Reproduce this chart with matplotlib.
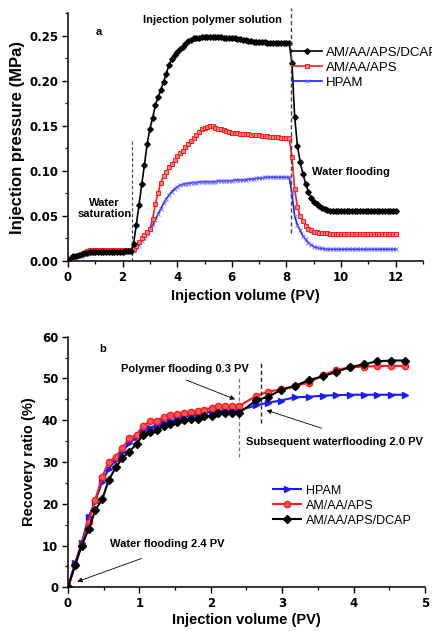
import numpy as np
import matplotlib
matplotlib.use('Agg')
import matplotlib.pyplot as plt
from matplotlib.ticker import MultipleLocator

# ---- panel a: injection pressure vs injection volume ----
pv_a = np.linspace(0, 12, 121)

press_dcap = ([0.001, 0.003, 0.005, 0.006, 0.007, 0.008, 0.009, 0.009, 0.010, 0.010]
              + [0.010] * 10
              + [0.010, 0.011, 0.011, 0.011, 0.019, 0.040, 0.062, 0.085, 0.107, 0.130]
              + [0.147, 0.159, 0.173, 0.182, 0.190, 0.199, 0.208, 0.218, 0.224, 0.229]
              + [0.232, 0.235, 0.238, 0.241, 0.244, 0.245, 0.247, 0.248, 0.248, 0.249]
              + [0.249, 0.249, 0.249, 0.249, 0.249, 0.249, 0.249, 0.248, 0.248, 0.248]
              + [0.247, 0.247, 0.246, 0.246, 0.245, 0.245, 0.244, 0.244, 0.243, 0.243]
              + [0.243, 0.243, 0.243, 0.242, 0.242, 0.242, 0.242, 0.242, 0.242, 0.242]
              + [0.242, 0.242, 0.220, 0.160, 0.128, 0.110, 0.097, 0.086, 0.077, 0.070]
              + [0.066, 0.063, 0.061, 0.059, 0.058, 0.057, 0.056, 0.056, 0.056, 0.056]
              + [0.056] * 21)

press_aps = ([0.000, 0.002, 0.004, 0.006, 0.007, 0.008, 0.009, 0.011, 0.012, 0.012]
             + [0.012] * 10
             + [0.012, 0.012, 0.012, 0.011, 0.013, 0.017, 0.021, 0.025, 0.029, 0.032]
             + [0.036, 0.047, 0.063, 0.076, 0.087, 0.094, 0.099, 0.104, 0.108, 0.112]
             + [0.116, 0.120, 0.122, 0.126, 0.130, 0.133, 0.137, 0.140, 0.143, 0.146]
             + [0.148, 0.149, 0.150, 0.150, 0.148, 0.147, 0.146, 0.145, 0.144, 0.143]
             + [0.142, 0.142, 0.142, 0.141, 0.141, 0.141, 0.141, 0.140, 0.140, 0.140]
             + [0.140, 0.139, 0.139, 0.139, 0.138, 0.138, 0.138, 0.138, 0.137, 0.137]
             + [0.137, 0.137, 0.115, 0.080, 0.060, 0.050, 0.044, 0.039, 0.036, 0.034]
             + [0.032, 0.032, 0.031, 0.031, 0.031, 0.031, 0.030, 0.030, 0.030, 0.030]
             + [0.030] * 21)

press_hpam = ([0.000, 0.001, 0.002, 0.004, 0.005, 0.006, 0.007, 0.008, 0.009, 0.009]
              + [0.010] * 10
              + [0.010, 0.010, 0.010, 0.010, 0.011, 0.014, 0.018, 0.022, 0.026, 0.030]
              + [0.034, 0.040, 0.046, 0.052, 0.058, 0.064, 0.069, 0.073, 0.077, 0.080]
              + [0.082, 0.084, 0.085, 0.086, 0.086, 0.087, 0.087, 0.087, 0.088, 0.088]
              + [0.088, 0.088, 0.088, 0.088, 0.088, 0.089, 0.089, 0.089, 0.089, 0.089]
              + [0.089, 0.090, 0.090, 0.090, 0.090, 0.090, 0.091, 0.091, 0.091, 0.092]
              + [0.092, 0.092, 0.093, 0.093, 0.093, 0.093, 0.093, 0.093, 0.093, 0.093]
              + [0.093, 0.093, 0.075, 0.050, 0.040, 0.034, 0.028, 0.024, 0.020, 0.018]
              + [0.016, 0.015, 0.014, 0.014, 0.013, 0.013, 0.013, 0.013, 0.013, 0.013]
              + [0.013] * 21)

# ---- panel b: recovery ratio vs injection volume ----
pv_b = [0, 0.10, 0.19, 0.29, 0.38, 0.48, 0.57, 0.67, 0.76, 0.86, 0.96, 1.05, 1.15,
        1.24, 1.34, 1.43, 1.53, 1.63, 1.72, 1.82, 1.91, 2.01, 2.10, 2.20, 2.29, 2.39,
        2.64, 2.80, 2.98, 3.18, 3.37, 3.57, 3.76, 3.95, 4.14, 4.33, 4.53, 4.72]

rec_hpam = [0, 5.9, 10.5, 16.9, 20.5, 25.3, 28.3, 30.5, 32.5, 34.5, 36.0, 37.5, 38.2,
            38.8, 39.3, 39.7, 40.4, 40.9, 41.1, 41.3, 41.7, 42.1, 42.2, 42.3, 42.3, 42.3,
            43.6, 44.2, 44.7, 45.5, 45.6, 45.9, 46.0, 46.1, 46.1, 46.1, 46.1, 46.1]
rec_aps = [0, 5.3, 10.1, 15.7, 20.9, 26.5, 29.9, 31.3, 33.3, 35.7, 36.5, 38.7, 39.7,
           39.9, 40.7, 41.2, 41.5, 41.7, 42.0, 42.2, 42.5, 42.9, 43.4, 43.4, 43.3, 43.3,
           45.9, 46.8, 47.4, 48.2, 49.0, 50.8, 52.0, 52.7, 52.8, 53.0, 53.0, 53.0]
rec_dcap = [0, 5.3, 9.9, 13.9, 18.4, 21.1, 25.7, 28.7, 30.9, 32.5, 34.3, 36.5, 37.1,
            37.7, 38.6, 39.0, 39.5, 40.1, 40.2, 40.2, 41.0, 41.1, 41.7, 41.7, 41.7, 41.7,
            44.8, 45.6, 47.2, 48.2, 49.6, 50.5, 51.6, 52.7, 53.4, 54.1, 54.3, 54.3]

BLUE = '#1a1aff'
RED = '#ff1a1a'
tickfont = dict(family='DejaVu Sans', weight='bold', size=8.5)
notefont = dict(family='Liberation Sans', weight='bold', size=8)
labfont = dict(family='Liberation Sans', weight='bold')

fig = plt.figure(figsize=(4.32, 6.31), dpi=100)
ax1 = fig.add_axes([0.1574, 0.5864, 0.8218, 0.3926])
ax2 = fig.add_axes([0.1574, 0.0693, 0.8264, 0.3971])

for ax in (ax1, ax2):
    for s in ('top', 'right'):
        ax.spines[s].set_visible(False)
    for s in ('left', 'bottom'):
        ax.spines[s].set_linewidth(1.1)
    ax.tick_params(which='major', direction='out', length=4, width=1, pad=3)
    ax.tick_params(which='minor', direction='out', length=2.5, width=0.9)

# panel a
ax1.plot(pv_a, press_dcap, color='k', lw=1.2, marker='D', ms=2.8, label='AM/AA/APS/DCAP', zorder=4)
ax1.plot(pv_a, press_aps, color=RED, lw=1.2, marker='s', ms=2.6, mfc='#ff8080', mec=RED,
         mew=0.7, label='AM/AA/APS', zorder=3)
ax1.plot(pv_a, press_hpam, color=BLUE, lw=1.2, marker='x', ms=2.6, mec='#6a6aff',
         mew=0.6, label='HPAM', zorder=2)
ax1.set_xlim(0, 13)
ax1.set_ylim(0, 0.275)
ax1.xaxis.set_minor_locator(MultipleLocator(1))
ax1.yaxis.set_minor_locator(MultipleLocator(0.025))
ax1.set_xticks([0, 2, 4, 6, 8, 10, 12])
ax1.set_xticklabels(['0', '2', '4', '6', '8', '10', '12'], fontdict=tickfont)
ax1.set_yticks([0, 0.05, 0.10, 0.15, 0.20, 0.25])
ax1.set_yticklabels(['0.00', '0.05', '0.10', '0.15', '0.20', '0.25'], fontdict=tickfont)
ax1.set_xlabel('Injection volume (PV)', size=10.5, labelpad=4, **labfont)
ax1.set_ylabel('Injection pressure (MPa)', size=12, labelpad=3, **labfont)

ax1.plot([2.35, 2.35], [0, 0.133], ls=(0, (3, 2)), color='#444444', lw=0.8, zorder=1)
ax1.plot([8.15, 8.15], [0.031, 0.281], ls=(0, (3, 2)), color='#444444', lw=1.0, zorder=5,
         clip_on=False)
ax1.text(1.13, 0.254, 'a', ha='center', va='center', **notefont)
ax1.text(5.29, 0.267, 'Injection polymer solution', ha='center', va='center', **notefont)
ax1.text(1.33, 0.058, 'Water\nsaturation', ha='center', va='center', linespacing=1.1, **notefont)
ax1.text(8.92, 0.0985, 'Water flooding', ha='left', va='center', **notefont)
ax1.legend(loc='upper left', bbox_to_anchor=(0.63, 0.865), frameon=False, borderpad=0,
           borderaxespad=0, handlelength=2.3, handletextpad=0.3, labelspacing=0.2,
           numpoints=1, prop=dict(family='Liberation Sans', size=9.5))

# panel b
ax2.plot(pv_b, rec_hpam, color=BLUE, lw=1.5, marker='>', ms=4.5, label='HPAM', zorder=2)
ax2.plot(pv_b, rec_aps, color=RED, lw=1.5, marker='o', ms=4.5, mfc='#ff5a5a', mec=RED,
         label='AM/AA/APS', zorder=3)
ax2.plot(pv_b, rec_dcap, color='k', lw=1.5, marker='D', ms=3.6, label='AM/AA/APS/DCAP', zorder=4)
ax2.set_xlim(0, 5)
ax2.set_ylim(0, 60)
ax2.xaxis.set_minor_locator(MultipleLocator(0.5))
ax2.yaxis.set_minor_locator(MultipleLocator(5))
ax2.set_xticks([0, 1, 2, 3, 4, 5])
ax2.set_xticklabels(['0', '1', '2', '3', '4', '5'], fontdict=tickfont)
ax2.set_yticks([0, 10, 20, 30, 40, 50, 60])
ax2.set_yticklabels(['0', '10', '20', '30', '40', '50', '60'], fontdict=tickfont)
ax2.set_xlabel('Injection volume (PV)', size=10.5, labelpad=2, **labfont)
ax2.set_ylabel('Recovery ratio (%)', size=10.5, labelpad=4, **labfont)

ax2.plot([2.4, 2.4], [31.3, 50.0], ls=(0, (3, 2)), color='#777777', lw=0.9, zorder=1)
ax2.plot([2.7, 2.7], [39.3, 53.6], ls=(0, (3, 2)), color='#222222', lw=1.0, zorder=5)
ax2.text(0.49, 57, 'b', ha='center', va='center', **notefont)
ax2.text(1.63, 52.3, 'Polymer flooding 0.3 PV', ha='center', va='center', **notefont)
ax2.text(2.49, 34.9, 'Subsequent waterflooding 2.0 PV', ha='left', va='center', **notefont)
ax2.text(0.59, 10.4, 'Water flooding 2.4 PV', ha='left', va='center', **notefont)
arrow = dict(arrowstyle='-|>', color='k', lw=0.6, mutation_scale=7, shrinkA=0, shrinkB=0)
ax2.annotate('', xy=(2.34, 45.0), xytext=(1.66, 49.6), arrowprops=arrow)
ax2.annotate('', xy=(2.78, 42.4), xytext=(3.55, 38.1), arrowprops=arrow)
ax2.annotate('', xy=(0.13, 1.35), xytext=(1.03, 6.9), arrowprops=arrow)
ax2.legend(loc='upper left', bbox_to_anchor=(0.573, 0.41), frameon=False, borderpad=0,
           borderaxespad=0, handlelength=2.3, handletextpad=0.35, labelspacing=0.25,
           numpoints=1, prop=dict(family='Liberation Sans', size=9))

fig.savefig('out.png', dpi=100)
